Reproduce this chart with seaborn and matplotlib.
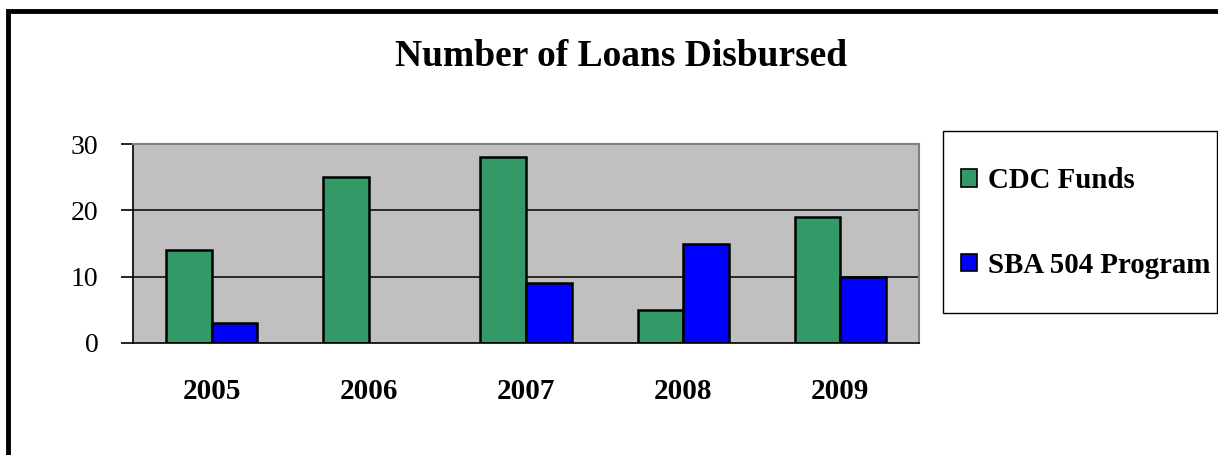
import matplotlib
matplotlib.use("Agg")
import matplotlib.pyplot as plt
import matplotlib.patches as mpatches
import pandas as pd
import seaborn as sns

years = ["2005", "2006", "2007", "2008", "2009"]
cdc_funds = [14, 25, 28, 5, 19]
sba_504 = [3, 0, 9, 15, 10]
series_names = ["CDC Funds", "SBA 504 Program"]
series_colors = ["#339966", "#0000FF"]
y_ticks = [0, 10, 20, 30]

df = pd.DataFrame({
    "year": years * 2,
    "loans": cdc_funds + sba_504,
    "series": [series_names[0]] * len(years) + [series_names[1]] * len(years),
})

sns.set_theme(style="white")
plt.rcParams["font.family"] = ["Liberation Serif", "DejaVu Serif"]
plt.rcParams["text.color"] = "black"
plt.rcParams["xtick.labelcolor"] = "black"
plt.rcParams["ytick.labelcolor"] = "black"

W, H, DPI = 1218, 455, 100
fig = plt.figure(figsize=(W / DPI, H / DPI), dpi=DPI)

# plot area in pixel coordinates
left, right, top, bottom = 133, 919, 144, 343
ax = fig.add_axes([left / W, 1 - bottom / H, (right - left) / W, (bottom - top) / H])
ax.set_facecolor("#C0C0C0")

sns.barplot(data=df, x="year", y="loans", hue="series", order=years,
            hue_order=series_names, palette=series_colors, width=0.58,
            gap=0, edgecolor="black", linewidth=1.8, saturation=1,
            legend=False, ax=ax)

# zero-height bars draw no outline in the reference
for bar in ax.patches:
    if bar.get_height() == 0:
        bar.set_linewidth(0)

ax.set_xlim(-0.5, len(years) - 0.5)
ax.set_ylim(0, 30)
ax.set_yticks(y_ticks)
ax.set_yticklabels([str(v) for v in y_ticks], fontsize=20)
for v in y_ticks[1:-1]:
    ax.axhline(v, color="black", lw=1.1, zorder=0.5)

ax.set_xticks(range(len(years)))
ax.set_xticklabels(years, fontsize=21, fontweight="bold")
ax.set_xticks([i - 0.5 for i in range(len(years) + 1)], minor=True)
ax.tick_params(axis="x", which="major", length=0, pad=25)
ax.tick_params(axis="x", which="minor", length=9, width=1.2, color="black", direction="out")
ax.tick_params(axis="y", length=9, width=1.2, color="black", direction="out", pad=16, left=True)
ax.set_xlabel("")
ax.set_ylabel("")

for side in ["top", "right"]:
    ax.spines[side].set_color("#808080")
    ax.spines[side].set_linewidth(1.5)
for side in ["left", "bottom"]:
    ax.spines[side].set_color("black")
    ax.spines[side].set_linewidth(1.2)

fig.text(621 / W, 1 - 57 / H, "Number of Loans Disbursed", ha="center", va="center",
         fontsize=27, fontweight="bold")

# legend box
lx0, lx1, ly0, ly1 = 943, 1217, 131, 313
fig.patches.append(mpatches.Rectangle((lx0 / W, 1 - ly1 / H), (lx1 - lx0) / W, (ly1 - ly0) / H,
                                      transform=fig.transFigure, facecolor="white",
                                      edgecolor="black", linewidth=1.0, zorder=1))
handles = [mpatches.Patch(facecolor=c, edgecolor="black", linewidth=1.2) for c in series_colors]
leg = fig.legend(handles, series_names, loc="center left",
                 bbox_to_anchor=(961 / W, 1 - 223 / H), bbox_transform=fig.transFigure,
                 frameon=False, prop={"size": 20.8, "weight": "bold"},
                 handlelength=0.55, handleheight=0.55, handletextpad=0.4,
                 labelspacing=2.0, borderpad=0, borderaxespad=0)
leg.set_zorder(2)

# outer chart border (cropped on the right and bottom)
fig.patches.append(mpatches.Rectangle((8 / W, -0.05), 1.2, 1 - 11 / H + 0.05,
                                      transform=fig.transFigure, fill=False,
                                      edgecolor="black", linewidth=3.5))

fig.savefig("out.png", dpi=DPI)
